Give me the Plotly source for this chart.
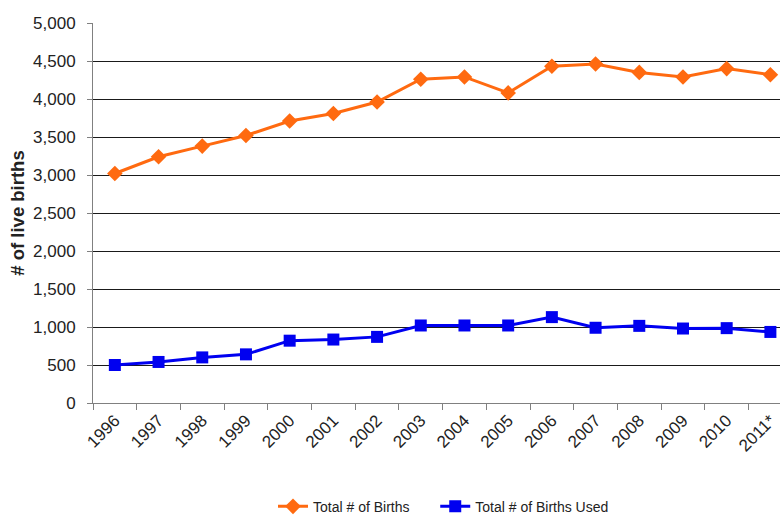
import plotly.graph_objects as go

years = ["1996", "1997", "1998", "1999", "2000", "2001", "2002", "2003",
         "2004", "2005", "2006", "2007", "2008", "2009", "2010", "2011*"]
total_births = [3020, 3240, 3380, 3520, 3710, 3810, 3960, 4260,
                4290, 4080, 4430, 4460, 4350, 4290, 4400, 4320]
births_used = [500, 540, 600, 640, 820, 835, 870, 1020,
               1020, 1020, 1130, 990, 1015, 980, 985, 935]
y_ticks = list(range(0, 5001, 500))

fig = go.Figure()
fig.add_trace(go.Scatter(
    x=years, y=total_births, name="Total # of Births", mode="lines+markers",
    line=dict(color="#FF6A10", width=3),
    marker=dict(symbol="diamond", size=12, color="#FF6A10"),
    legend="legend",
))
fig.add_trace(go.Scatter(
    x=years, y=births_used, name="Total # of Births Used", mode="lines+markers",
    line=dict(color="#0000F0", width=3),
    marker=dict(symbol="square", size=12, color="#0000F0"),
    legend="legend2",
))

legend_font = dict(family="Liberation Sans Narrow, Arial Narrow, Liberation Sans, sans-serif",
                   size=14, color="#222")

fig.update_layout(
    width=780, height=515,
    margin=dict(l=93, r=0, t=23, b=112),
    paper_bgcolor="white", plot_bgcolor="white",
    font=dict(family="Liberation Sans, Arial, sans-serif", size=17, color="#222"),
    showlegend=True,
    legend=dict(orientation="h", xref="container", yref="container",
                x=0.35, xanchor="left", y=0.016, yanchor="middle",
                font=legend_font, itemwidth=30),
    legend2=dict(orientation="h", xref="container", yref="container",
                 x=0.558, xanchor="left", y=0.016, yanchor="middle",
                 font=legend_font, itemwidth=30),
    xaxis=dict(
        type="category", range=[-0.5, 15.22], automargin=False,
        tickson="boundaries", ticks="outside", ticklen=6, tickcolor="#808080",
        tickangle=-45, showgrid=False,
        showline=True, linecolor="#808080", linewidth=1,
        tickfont=dict(size=17, color="#222"),
    ),
    yaxis=dict(
        range=[0, 5000], tickvals=y_ticks, automargin=False,
        ticktext=[f"{v:,}" for v in y_ticks],
        ticks="outside", ticklen=5, tickcolor="#808080",
        ticklabelstandoff=8,
        showgrid=True, gridcolor="#1a1a1a", gridwidth=1,
        showline=True, linecolor="#808080", linewidth=1,
        zeroline=False,
        title=dict(text="<b># of live births</b>", font=dict(size=18.5, color="#222"), standoff=3),
        tickfont=dict(size=17, color="#222"),
    ),
)

fig.write_html("out.html", config={"displayModeBar": False},
               post_script="document.body.style.margin='0';")
